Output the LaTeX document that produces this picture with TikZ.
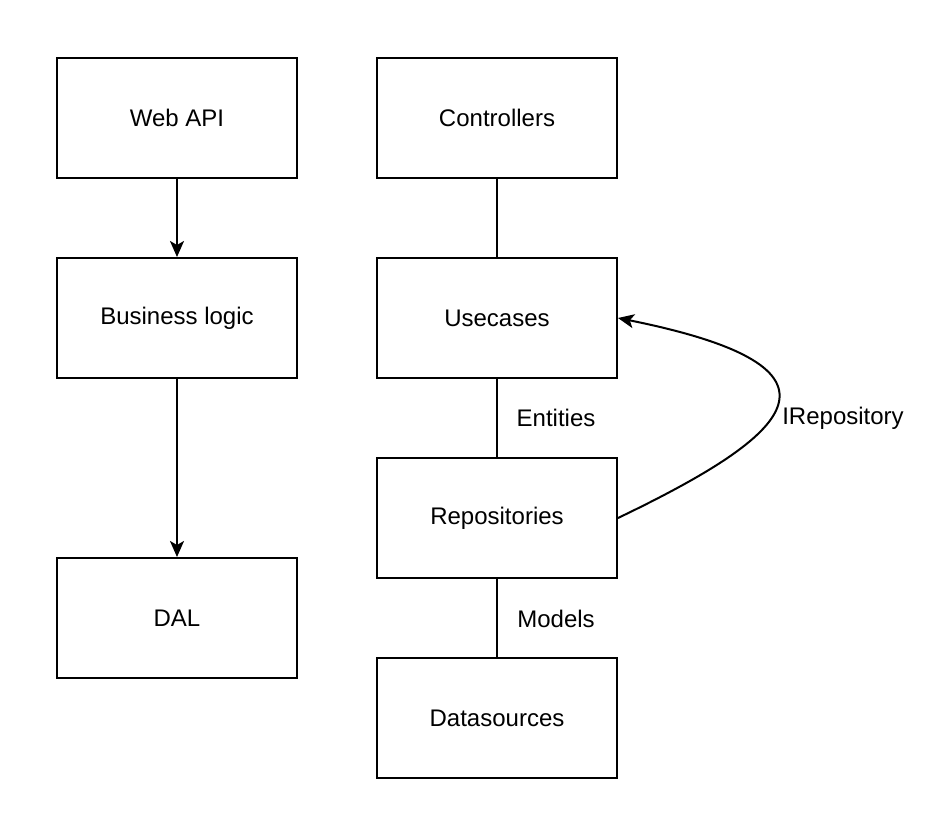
\documentclass[tikz,border=0pt]{standalone}
\usepackage{fontspec}
\setmainfont{Liberation Sans}
\usetikzlibrary{arrows.meta}
\begin{document}
\begin{tikzpicture}[x=1pt,y=-1pt,
  box/.style={draw,line width=2pt,minimum width=240pt,minimum height=120pt,inner sep=0pt,font=\fontsize{24}{28}\selectfont},
  lbl/.style={font=\fontsize{24}{28}\selectfont,inner sep=0pt},
  conn/.style={line width=2pt},
  arr/.style={conn,-{Stealth[length=16pt,width=14pt,inset=4pt]}}]
\useasboundingbox (0,0) rectangle (932,818);
\node[box] (web) at (177,118) {Web API};
\node[box] (bl) at (177,318) {Business logic};
\node[box] (dal) at (177,618) {DAL};
\node[box] (ctrl) at (497,118) {Controllers};
\node[box] (uc) at (497,318) {Usecases};
\node[box] (repo) at (497,518) {Repositories};
\node[box] (ds) at (497,718) {Datasources};
\draw[arr] (web.south) -- (bl.north);
\draw[arr] (bl.south) -- (dal.north);
\draw[conn] (ctrl.south) -- (uc.north);
\draw[conn] (uc.south) -- (repo.north);
\draw[conn] (repo.south) -- (ds.north);
\node[lbl] (ent) at (556,418) {Entities};
\node[lbl] (mod) at (556,619) {Models};
\node[lbl] (irep) at (843,418) {IRepository};
\draw[arr] (repo.east) .. controls (793,434) and (866,368) .. (uc.east);
\end{tikzpicture}
\end{document}
